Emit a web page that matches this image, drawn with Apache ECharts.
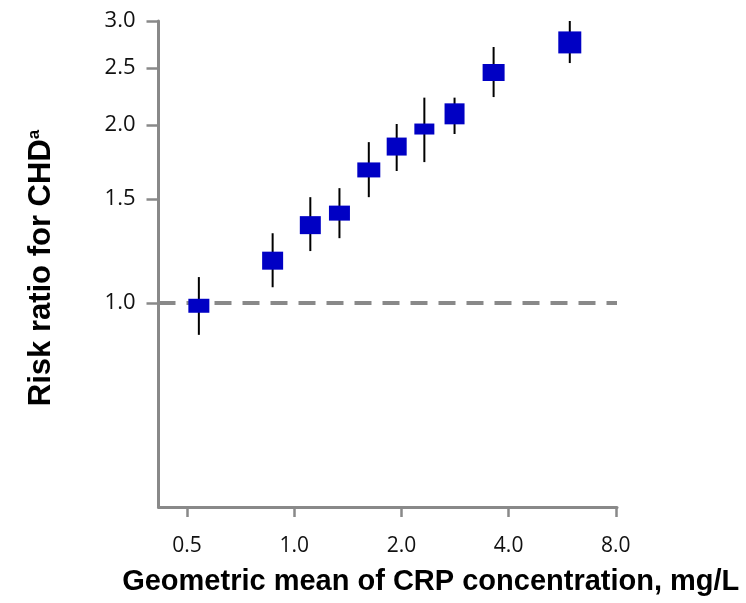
<!DOCTYPE html>
<html>
<head>
<meta charset="utf-8">
<script src="https://cdn.jsdelivr.net/npm/echarts@6/dist/echarts.min.js"></script>
<style>
  html, body { margin: 0; padding: 0; background: #fff; }
  #chart { width: 746px; height: 603px; }
</style>
</head>
<body>
<div id="chart"></div>
<script>
// geometric mean CRP (mg/L) per group, and risk ratio with CI
const crp = [0.54, 0.87, 1.11, 1.34, 1.62, 1.94, 2.32, 2.82, 3.63, 5.94];
const rr = [0.99, 1.18, 1.355, 1.42, 1.68, 1.84, 1.97, 2.09, 2.455, 2.76];
const rrLow = [0.884, 1.064, 1.225, 1.288, 1.511, 1.673, 1.732, 1.932, 2.231, 2.547];
const rrHigh = [1.107, 1.313, 1.511, 1.565, 1.872, 2.009, 2.226, 2.226, 2.711, 3.0];
const xTicks = [0.5, 1, 2, 4, 8];
const yTicks = [1, 1.5, 2, 2.5, 3];

// box sizes in px (drawn size differs by group)
const boxW = [21, 21, 21, 21, 23, 20, 20, 20, 22, 23];
const boxH = [14, 18, 18, 15, 15, 18, 11, 21, 17, 22];

const axisGrey = '#898989';
const boxColor = '#0000c4';

// axes are log scale: x in log2, y in ln
const data = crp.map((c, i) => [Math.log2(c), Math.log(rr[i]), Math.log(rrLow[i]), Math.log(rrHigh[i]), i]);

var myChart = echarts.init(document.getElementById('chart'));
let option = {
    animation: false,
    grid: { left: 158.5, right: 129, top: 21, bottom: 96 },
    xAxis: {
        type: 'value',
        min: Math.log2(0.416),
        max: Math.log2(8.06),
        name: 'Geometric mean of CRP concentration, mg/L',
        nameLocation: 'middle',
        nameGap: 60,
        nameTextStyle: {
            fontFamily: 'Liberation Sans', fontWeight: 'bold', fontSize: 29, color: '#000',
            padding: [0, 0, 0, 86]
        },
        splitLine: { show: false },
        axisLine: { onZero: false, lineStyle: { color: axisGrey, width: 3 } },
        axisTick: {
            customValues: xTicks.map(v => Math.log2(v)),
            length: 10, lineStyle: { color: axisGrey, width: 2.5 }
        },
        axisLabel: {
            customValues: xTicks.map(v => Math.log2(v)),
            formatter: v => Math.pow(2, v).toFixed(1),
            margin: 29, fontFamily: 'Open Sans', fontSize: 21, color: '#111'
        }
    },
    yAxis: {
        type: 'value',
        min: -0.7935,
        max: Math.log(3),
        name: 'Risk ratio for CHD{sup|a}',
        nameLocation: 'middle',
        nameGap: 102,
        nameTextStyle: {
            fontFamily: 'Liberation Sans', fontWeight: 'bold', fontSize: 31, color: '#000',
            padding: [0, 8, 0, 0],
            rich: {
                sup: { fontFamily: 'Liberation Sans', fontWeight: 'bold', fontSize: 17, color: '#000', verticalAlign: 'top', lineHeight: 31 }
            }
        },
        splitLine: { show: false },
        axisLine: { onZero: false, lineStyle: { color: axisGrey, width: 3 } },
        axisTick: {
            customValues: yTicks.map(v => Math.log(v)),
            length: 12, lineStyle: { color: axisGrey, width: 2.5 }
        },
        axisLabel: {
            customValues: yTicks.map(v => Math.log(v)),
            formatter: v => Math.exp(v).toFixed(1),
            margin: 23, fontFamily: 'Open Sans', fontSize: 22, color: '#111'
        }
    },
    series: [
        {
            type: 'custom',
            data: data,
            encode: { x: 0, y: [1, 2, 3] },
            renderItem: function (params, api) {
                const i = api.value(4);
                const c = api.coord([api.value(0), api.value(1)]);
                const lo = api.coord([api.value(0), api.value(2)]);
                const hi = api.coord([api.value(0), api.value(3)]);
                return {
                    type: 'group',
                    children: [
                        {
                            type: 'line',
                            shape: { x1: c[0], y1: lo[1], x2: c[0], y2: hi[1] },
                            style: { stroke: '#000', lineWidth: 2 }
                        },
                        {
                            type: 'rect',
                            shape: { x: c[0] - boxW[i] / 2, y: c[1] - boxH[i] / 2, width: boxW[i], height: boxH[i] },
                            style: { fill: boxColor }
                        }
                    ]
                };
            },
            markLine: {
                silent: true,
                symbol: 'none',
                z: 1,
                label: { show: false },
                lineStyle: { color: axisGrey, width: 4, type: [17, 11] },
                data: [{ yAxis: 0 }]
            },
            z: 3
        }
    ]
};
myChart.setOption(option);
</script>
</body>
</html>
